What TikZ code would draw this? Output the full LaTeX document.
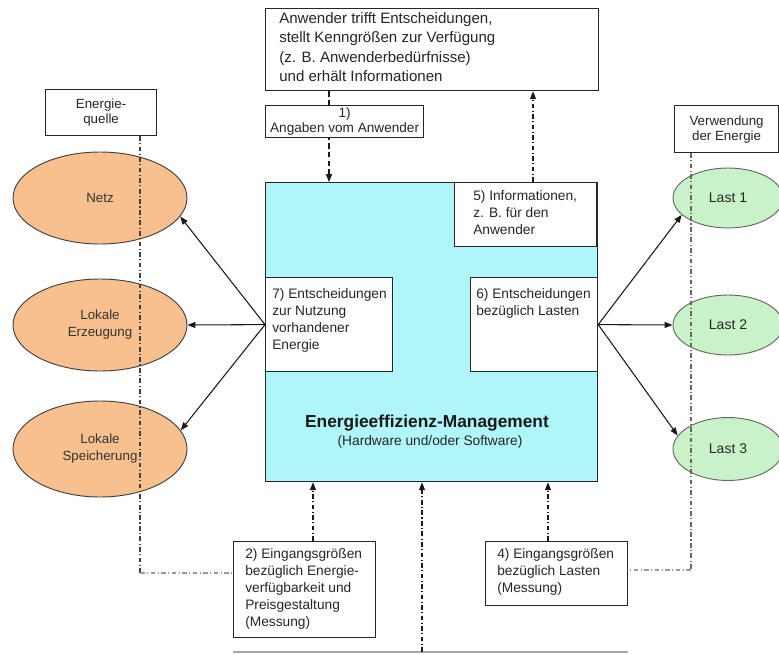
\documentclass[tikz,border=0pt]{standalone}
\usepackage{fontspec}
\setmainfont{Liberation Sans}
\usetikzlibrary{shapes.geometric,arrows.meta,calc}
\newcommand\pxu{0.75pt}
\definecolor{mgmtcyan}{RGB}{175,245,250}
\definecolor{srcorange}{RGB}{247,192,142}
\definecolor{loadgreen}{RGB}{202,242,200}

\begin{document}
\begin{tikzpicture}[x=0.75pt,y=-0.75pt,
  box/.style={draw=black!85,line width=0.9pt,fill=white,inner sep=0pt,anchor=north west},
  label/.style={inner sep=0pt,anchor=north west,align=left,font=\fontsize{10.3}{12.8}\selectfont,text=black!85},
  headbox/.style={box,align=center,font=\fontsize{10}{11.2}\selectfont,text=black!85},
  src/.style={ellipse,draw=black!75,line width=0.7pt,fill=srcorange,minimum width=174*\pxu,minimum height=92*\pxu,inner sep=0pt,align=center,font=\fontsize{10}{12.8}\selectfont,text=black!80},
  load/.style={ellipse,draw=black!60,line width=0.7pt,fill=loadgreen,minimum width=110*\pxu,minimum height=60*\pxu,inner sep=0pt,font=\fontsize{10.5}{13}\selectfont,text=black!85},
  flow/.style={line width=0.8pt,draw=black!90,-{Triangle[length=6pt,width=4.5pt]}},
  dashflow/.style={flow,dash pattern=on 4pt off 2.5pt},
  dotflow/.style={flow,dash pattern=on 3.5pt off 1.8pt on 0.8pt off 1.8pt},
  guide/.style={line width=0.8pt,draw=black!75,dash pattern=on 3.5pt off 1.8pt on 0.8pt off 1.8pt},
  faintguide/.style={guide,draw=black!40}]

\useasboundingbox (0,0) rectangle (779,654);

% helper columns for the vertical connectors
\coordinate (cin) at (329,0);
\coordinate (cout) at (533,0);
\coordinate (c2) at (313,0);
\coordinate (c4) at (548,0);
\coordinate (lc) at (140,573);
\coordinate (rc) at (691,570);
\coordinate (bl) at (233,652);
\coordinate (br) at (628,652);
\coordinate (bm) at (422,652);

% energy efficiency management block
\node[box,fill=mgmtcyan,minimum width=332*\pxu,minimum height=299*\pxu] (mgmt) at (265,182) {};
\node[box,minimum width=142*\pxu,minimum height=64*\pxu] (info) at (454,182) {};
\node[label] (infotxt) at (473,190) {5) Informationen,\\z. B. für den\\Anwender};
\node[box,minimum width=127*\pxu,minimum height=94*\pxu] (dec7) at (265,277) {};
\node[label] (dec7txt) at (272,288) {7) Entscheidungen\\zur Nutzung\\vorhandener\\Energie};
\node[box,minimum width=127*\pxu,minimum height=94*\pxu] (dec6) at (470,277) {};
\node[label] (dec6txt) at (476,288) {6) Entscheidungen\\bezüglich Lasten};
\node[inner sep=0pt,font=\fontsize{13}{15}\selectfont\bfseries,text=black!90] (title) at (427,423) {Energieeffizienz-Management};
\node[inner sep=0pt,font=\fontsize{10.3}{12}\selectfont,text=black!85] (subtitle) at (430,442) {(Hardware und/oder Software)};

% user
\node[box,minimum width=333*\pxu,minimum height=82*\pxu] (user) at (265,8) {};
\node[label,font=\fontsize{11.3}{14.6}\selectfont] (usertxt) at (279,12) {Anwender trifft Entscheidungen,\\stellt Kenngrößen zur Verfügung\\(z. B. Anwenderbedürfnisse)\\und erhält Informationen};

\draw[dashflow] (user.south -| cin) -- (mgmt.north -| cin);
\draw[dotflow] (info.north -| cout) -- (user.south -| cout);
\node[headbox,minimum width=158*\pxu,minimum height=32*\pxu,font=\fontsize{10.2}{10.8}\selectfont] (ask) at (265,105) {1)\\Angaben vom Anwender};

% energy sources
\node[headbox,minimum width=111*\pxu,minimum height=46*\pxu] (srchead) at (45,89) {Energie-\\quelle};
\node[src] (netz) at (100,198) {Netz};
\node[src] (erz) at (100,325) {Lokale\\Erzeugung};
\node[src,minimum height=96*\pxu] (spei) at (100,449) {Lokale\\Speicherung};

% loads
\node[headbox,minimum width=104*\pxu,minimum height=47*\pxu] (usehead) at (674,105) {Verwendung\\der Energie};
\node[load] (last1) at (728,198) {Last 1};
\node[load] (last2) at (728,325) {Last 2};
\node[load,minimum height=63*\pxu] (last3) at (728,449) {Last 3};

% measured inputs
\node[box,minimum width=142*\pxu,minimum height=96*\pxu] (in2) at (233,541) {};
\node[label] (in2txt) at (245,548) {2) Eingangsgrößen\\bezüglich Energie-\\verfügbarkeit und\\Preisgestaltung\\(Messung)};
\node[box,minimum width=142*\pxu,minimum height=64*\pxu] (in4) at (485,541) {};
\node[label] (in4txt) at (497,548) {4) Eingangsgrößen\\bezüglich Lasten\\(Messung)};
\draw[black!35,line width=0.9pt] (bl) -- (br);

% guide lines
\draw[guide] (srchead.south -| lc) -- (lc);
\draw[faintguide] (lc) -- (in2.west |- lc);
\draw[guide,draw=black!60] (usehead.south -| rc) -- (rc);
\draw[faintguide] (rc) -- (in4.east |- rc);

% inputs into the management block
\draw[dotflow] (in2.north -| c2) -- (mgmt.south -| c2);
\draw[dotflow] (in4.north -| c4) -- (mgmt.south -| c4);
\draw[dotflow] (bm) -- (mgmt.south -| bm);

% decisions
\draw[flow] (dec7.west) -- (netz.-13);
\draw[flow] (dec7.west) -- (erz.east);
\draw[flow] (dec7.west) -- (spei.13);
\draw[flow] (dec6.east) -- (last1.200);
\draw[flow] (dec6.east) -- (last2.west);
\draw[flow] (dec6.east) -- (last3.165);
\end{tikzpicture}
\end{document}
